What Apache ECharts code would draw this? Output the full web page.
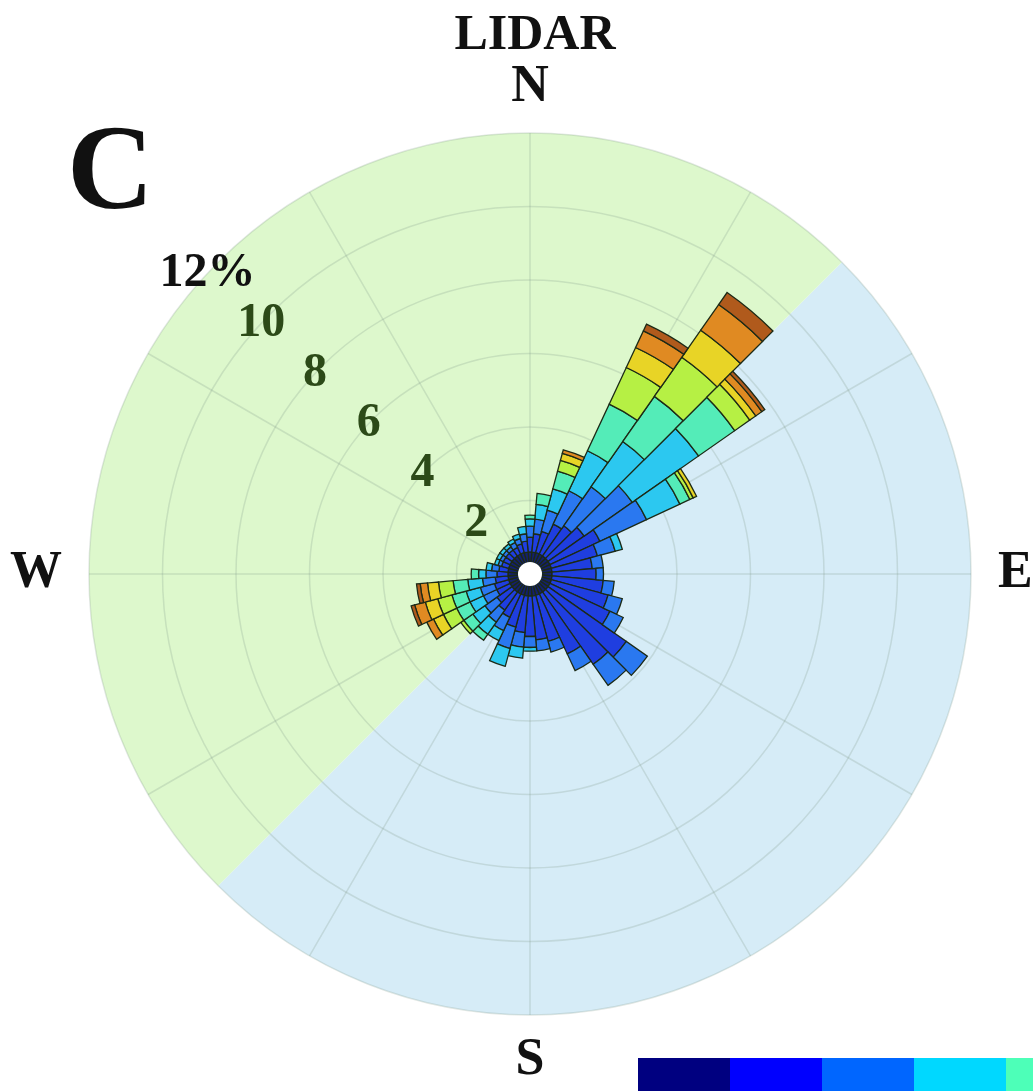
<!DOCTYPE html>
<html>
<head>
<meta charset="utf-8">
<script src="https://cdn.jsdelivr.net/npm/echarts@6/dist/echarts.min.js"></script>
<style>
html,body{margin:0;padding:0;background:#fff;}
#chart{width:1033px;height:1091px;}
</style>
</head>
<body>
<div id="chart"></div>
<script>
// ---- data ----
const directions = [0,10,20,30,40,50,60,70,80,90,100,110,120,130,140,150,160,170,180,190,200,210,220,230,240,250,260,270,280,290,300,310,320,330,340,350];
const compassLabels = {0:'N',90:'E',180:'S',270:'W'};
const radialTicks = [0,2,4,6,8,10,12];
const speedBins = ['bin 1','bin 2','bin 3','bin 4','bin 5','bin 6','bin 7','bin 8','bin 9'];
const s1 = [0.6,0.6,0.6,0.6,0.6,0.6,0.6,0.6,0.6,0.6,0.6,0.6,0.6,0.6,0.6,0.6,0.6,0.6,0.6,0.6,0.6,0.6,0.6,0.6,0.6,0.6,0.6,0.6,0.6,0.6,0.6,0.6,0.6,0.6,0.6,0.6];
const s2 = [0.4,0.5,0.6,0.9,1.0,1.2,1.5,1.3,1.1,1.2,1.4,1.6,1.8,2.6,2.4,1.8,1.3,1.2,1.1,1.0,0.9,0.7,0.6,0.5,0.4,0.4,0.35,0.3,0.25,0.2,0.2,0.2,0.2,0.2,0.25,0.3];
const s3 = [0.3,0.4,0.6,1.0,1.3,1.6,1.4,0.5,0.3,0.2,0.3,0.4,0.4,0.7,0.7,0.5,0.3,0.3,0.3,0.4,0.6,0.4,0.4,0.4,0.4,0.4,0.35,0.3,0.2,0.1,0.1,0.1,0.1,0.15,0.15,0.2];
const s4 = [0.2,0.4,0.6,1.2,1.5,2.2,1.0,0.2,0,0,0,0,0,0,0,0,0,0,0.1,0.3,0.5,0.3,0.4,0.4,0.4,0.4,0.4,0.2,0.15,0.1,0.1,0.1,0.1,0.1,0.12,0.2];
const s5 = [0.1,0.3,0.5,1.4,1.5,1.2,0.3,0,0,0,0,0,0,0,0,0,0,0,0,0,0,0,0.2,0.3,0.4,0.4,0.4,0.2,0,0,0,0,0,0,0,0];
const s6 = [0,0,0.3,1.1,1.3,0.5,0.1,0,0,0,0,0,0,0,0,0,0,0,0,0,0,0,0,0.1,0.4,0.4,0.4,0,0,0,0,0,0,0,0,0];
const s7 = [0,0,0.2,0.6,0.9,0.2,0.1,0,0,0,0,0,0,0,0,0,0,0,0,0,0,0,0,0,0.3,0.35,0.3,0,0,0,0,0,0,0,0,0];
const s8 = [0,0,0.1,0.5,0.85,0.2,0,0,0,0,0,0,0,0,0,0,0,0,0,0,0,0,0,0,0.2,0.3,0.2,0,0,0,0,0,0,0,0,0];
const s9 = [0,0,0,0.2,0.4,0.1,0,0,0,0,0,0,0,0,0,0,0,0,0,0,0,0,0,0,0,0.1,0.1,0,0,0,0,0,0,0,0,0];
const seriesValues = [s1,s2,s3,s4,s5,s6,s7,s8,s9];

// ---- styles / layout ----
const barColors = ['#14206e','#1f3ee0','#2a78f0','#2cc8f0','#54ecb8','#b6f044','#e8d426','#e08a22','#b05a1c'];
const legendColors = ['#000080','#0000ff','#0066ff','#00d8ff','#4dffb8','#b8ff4d','#ffd800','#ff6600','#cc0000'];
const CX = 530, CY = 574, R = 441;
const SERIF = '"Liberation Serif","Times New Roman",serif';
const gridColor = 'rgba(130,155,140,0.25)';

const chart = echarts.init(document.getElementById('chart'));

const barSeries = seriesValues.map((vals, i) => ({
  name: speedBins[i],
  type: 'bar',
  coordinateSystem: 'polar',
  polarIndex: 0,
  stack: 'rose',
  barCategoryGap: '0%',
  z: 3,
  silent: true,
  itemStyle: {color: barColors[i], borderColor: '#1c2a16', borderWidth: 1.3},
  data: vals.map(v => v === 0 ? '-' : v)
}));

const option = {
  backgroundColor: '#ffffff',
  animation: false,
  title: [
    {text: 'LIDAR', left: CX, textAlign: 'center', top: 6,
     textStyle: {fontFamily: SERIF, fontSize: 50, fontWeight: 'bold', color: '#111'}},
    {text: 'C', left: 62, top: 112,
     textStyle: {fontFamily: SERIF, fontSize: 120, fontWeight: 'bold', color: '#111'}}
  ],
  legend: {
    left: 638, top: 1058, width: 1200, padding: 0,
    itemWidth: 92, itemHeight: 40, itemGap: 0,
    icon: 'rect', selectedMode: false,
    formatter: () => '',
    data: speedBins.map((n, i) => ({name: n, itemStyle: {color: legendColors[i], borderWidth: 0}}))
  },
  polar: [
    {center: [CX, CY], radius: [0, R]},
    {center: [CX, CY], radius: [0, R]},
    {center: [CX, CY], radius: [0, R]}
  ],
  angleAxis: [
    {polarIndex: 0, type: 'category', data: directions, startAngle: 95, clockwise: true, z: 1,
     axisLine: {show: false}, axisTick: {show: false}, splitLine: {show: false},
     axisLabel: {show: true, interval: 8, margin: 27,
       formatter: v => compassLabels[v] || '',
       lineHeight: 37,
       fontFamily: SERIF, fontSize: 52, fontWeight: 'bold', color: '#111'}},
    {polarIndex: 1, type: 'value', min: 0, max: 360, interval: 30, startAngle: 90, clockwise: true, z: 1,
     axisLine: {show: false}, axisTick: {show: false}, axisLabel: {show: false},
     splitLine: {show: true, lineStyle: {color: gridColor, width: 1.5}}},
    {polarIndex: 2, type: 'value', min: 0, max: 360, startAngle: 137, clockwise: true, z: 1,
     axisLine: {show: false}, axisTick: {show: false}, axisLabel: {show: false}, splitLine: {show: false}}
  ],
  radiusAxis: [
    {polarIndex: 0, min: 0, max: 12, interval: 2, z: 1,
     axisLine: {show: false}, axisTick: {show: false}, axisLabel: {show: false},
     splitLine: {show: true, lineStyle: {color: gridColor, width: 1.5}}},
    {polarIndex: 1, min: 0, max: 12, interval: 2, show: false},
    {polarIndex: 2, min: 0, max: 12, interval: 2, z: 5,
     axisLine: {show: false}, axisTick: {show: false}, splitLine: {show: false},
     axisLabel: {show: true, margin: 0, rotate: 0, align: 'center', verticalAlign: 'middle',
       formatter: v => v === 0 ? '' : (v === 12 ? '{k|12%}' : '{g|' + v + '}'),
       rich: {
         k: {fontFamily: SERIF, fontSize: 48, fontWeight: 'bold', color: '#111'},
         g: {fontFamily: SERIF, fontSize: 48, fontWeight: 'bold', color: '#2c4a18'}
       }}}
  ],
  series: [
    {type: 'pie', center: [CX, CY], radius: [0, R], startAngle: 45, clockwise: true, z: 0,
     silent: true, label: {show: false}, labelLine: {show: false}, itemStyle: {borderWidth: 0},
     data: [{name: 'SE half', value: 1, itemStyle: {color: '#d6ecf7'}},
            {name: 'NW half', value: 1, itemStyle: {color: '#ddf8cc'}}]}
  ].concat(barSeries),
  graphic: [
    {type: 'circle', shape: {cx: CX, cy: CY, r: 12}, style: {fill: '#ffffff'}, z: 20}
  ]
};
chart.setOption(option);
</script>
</body>
</html>
